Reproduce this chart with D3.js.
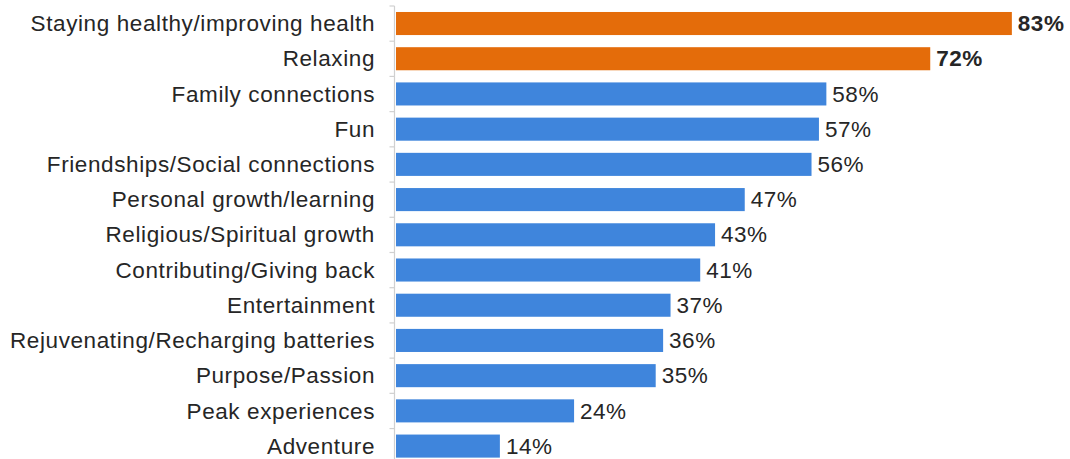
<!DOCTYPE html>
<html>
<head>
<meta charset="utf-8">
<script src="https://cdn.jsdelivr.net/npm/d3@7"></script>
<style>
  html, body { margin: 0; padding: 0; background: #fff; }
  svg { display: block; }
</style>
</head>
<body>
<svg id="chart" width="1070" height="459"></svg>
<script>
// Reasons for taking a vacation, share of respondents
const categories = [
  "Staying healthy/improving health",
  "Relaxing",
  "Family connections",
  "Fun",
  "Friendships/Social connections",
  "Personal growth/learning",
  "Religious/Spiritual growth",
  "Contributing/Giving back",
  "Entertainment",
  "Rejuvenating/Recharging batteries",
  "Purpose/Passion",
  "Peak experiences",
  "Adventure"
];
const values = [83, 72, 58, 57, 56, 47, 43, 41, 37, 36, 35, 24, 14];
const highlighted = ["Staying healthy/improving health", "Relaxing"];

const svg = d3.select("#chart");
const x0 = 396;
const FONT = "Liberation Sans, Arial, sans-serif";
const FS = 22.5;

const x = d3.scaleLinear().domain([0, 100]).range([x0, x0 + 742]);
const y = d3.scaleBand().domain(categories).range([6, 6 + 35.2 * 13]).paddingInner(0.345).paddingOuter(0.17);

const data = categories.map((c, i) => ({ cat: c, val: values[i], hi: highlighted.includes(c) }));

// Category axis with outward ticks between rows
const axisX = x0 - 1.5;
svg.append("line")
  .attr("x1", axisX).attr("x2", axisX)
  .attr("y1", y.range()[0]).attr("y2", y.range()[1])
  .attr("stroke", "#d0d0d0").attr("stroke-width", 1.2);
const step = y.step();
d3.range(14).forEach(i => {
  const ty = y.range()[0] + i * step;
  svg.append("line")
    .attr("x1", axisX - 5).attr("x2", axisX)
    .attr("y1", ty).attr("y2", ty)
    .attr("stroke", "#d0d0d0").attr("stroke-width", 1.2);
});

// Bars
svg.selectAll("rect.bar").data(data).enter().append("rect")
  .attr("class", "bar")
  .attr("x", x(0))
  .attr("y", d => y(d.cat))
  .attr("width", d => x(d.val) - x(0))
  .attr("height", y.bandwidth())
  .attr("fill", d => d.hi ? "#e46c0a" : "#3f85dc");

// Category labels
svg.selectAll("text.cat").data(data).enter().append("text")
  .attr("class", "cat")
  .attr("x", 375)
  .attr("y", d => y(d.cat) + y.bandwidth() / 2)
  .attr("dy", "0.34em")
  .attr("text-anchor", "end")
  .attr("font-family", FONT)
  .attr("font-size", FS)
  .attr("letter-spacing", "0.6px")
  .attr("fill", "#262626")
  .text(d => d.cat);

// Value labels
svg.selectAll("text.val").data(data).enter().append("text")
  .attr("class", "val")
  .attr("x", d => x(d.val) + 6)
  .attr("y", d => y(d.cat) + y.bandwidth() / 2)
  .attr("dy", "0.34em")
  .attr("font-family", FONT)
  .attr("font-size", FS)
  .attr("letter-spacing", "0.5px")
  .attr("font-weight", d => d.hi ? "bold" : "normal")
  .attr("fill", "#262626")
  .text(d => d.val + "%");
</script>
</body>
</html>
